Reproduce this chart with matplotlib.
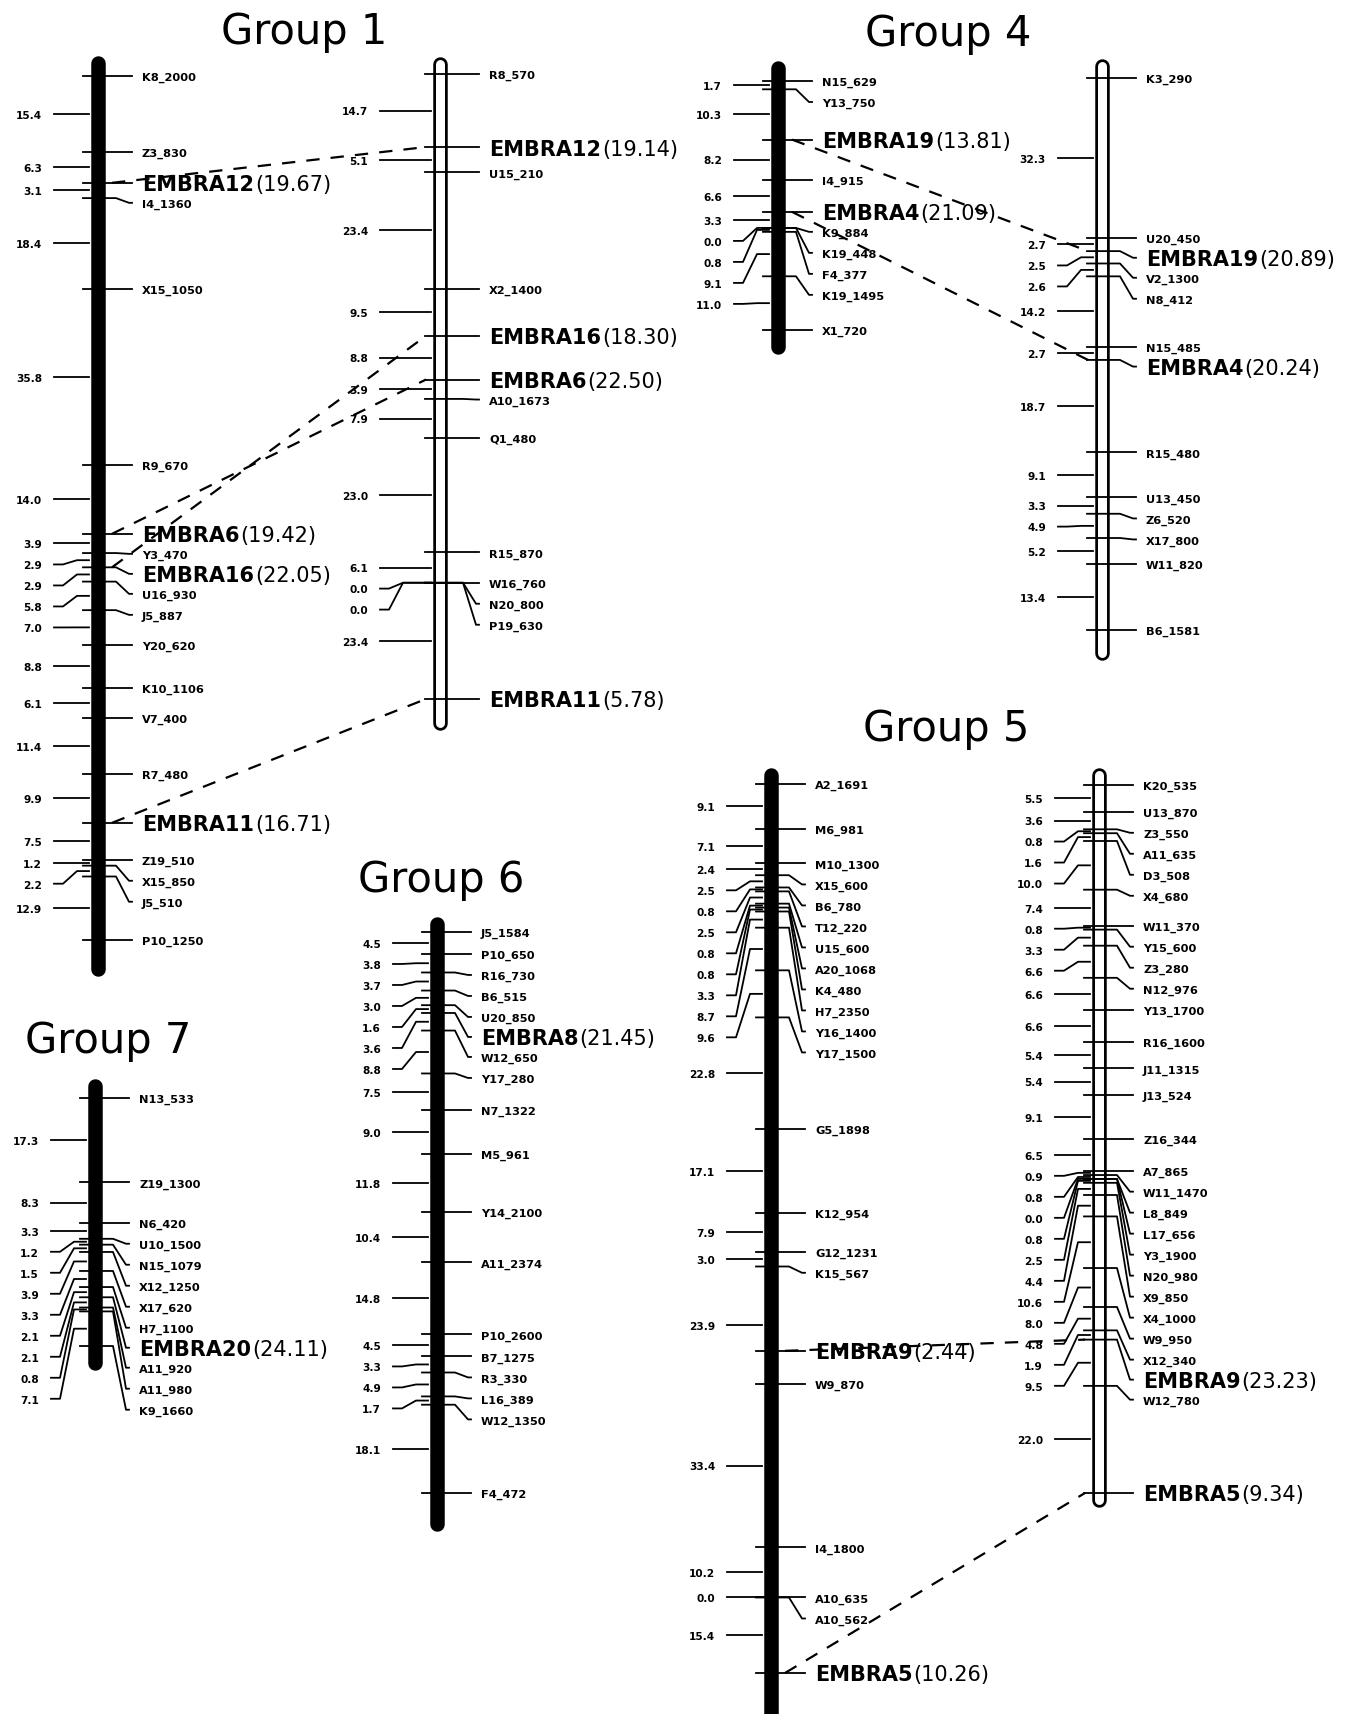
import matplotlib
matplotlib.use("Agg")
import matplotlib.pyplot as plt
import numpy as np

# ---------------------------------------------------------------------------
# Linkage groups: marker names top to bottom, interval distances (cM),
# EMBRA microsatellite scores shown in parentheses.
# ---------------------------------------------------------------------------
g1a_markers = ["K8_2000", "Z3_830", "EMBRA12", "I4_1360", "X15_1050", "R9_670",
               "EMBRA6", "Y3_470", "EMBRA16", "U16_930", "J5_887", "Y20_620",
               "K10_1106", "V7_400", "R7_480", "EMBRA11", "Z19_510", "X15_850",
               "J5_510", "P10_1250"]
g1a_dist = [15.4, 6.3, 3.1, 18.4, 35.8, 14.0, 3.9, 2.9, 2.9, 5.8, 7.0, 8.8,
            6.1, 11.4, 9.9, 7.5, 1.2, 2.2, 12.9]
g1a_embra = {"EMBRA12": 19.67, "EMBRA6": 19.42, "EMBRA16": 22.05, "EMBRA11": 16.71}

g1b_markers = ["R8_570", "EMBRA12", "U15_210", "X2_1400", "EMBRA16", "EMBRA6",
               "A10_1673", "Q1_480", "R15_870", "W16_760", "N20_800", "P19_630",
               "EMBRA11"]
g1b_dist = [14.7, 5.1, 23.4, 9.5, 8.8, 3.9, 7.9, 23.0, 6.1, 0.0, 0.0, 23.4]
g1b_embra = {"EMBRA12": 19.14, "EMBRA16": 18.30, "EMBRA6": 22.50, "EMBRA11": 5.78}

g4a_markers = ["N15_629", "Y13_750", "EMBRA19", "I4_915", "EMBRA4", "K9_884",
               "K19_448", "F4_377", "K19_1495", "X1_720"]
g4a_dist = [1.7, 10.3, 8.2, 6.6, 3.3, 0.0, 0.8, 9.1, 11.0]
g4a_embra = {"EMBRA19": 13.81, "EMBRA4": 21.09}

g4b_markers = ["K3_290", "U20_450", "EMBRA19", "V2_1300", "N8_412", "N15_485",
               "EMBRA4", "R15_480", "U13_450", "Z6_520", "X17_800", "W11_820",
               "B6_1581"]
g4b_dist = [32.3, 2.7, 2.5, 2.6, 14.2, 2.7, 18.7, 9.1, 3.3, 4.9, 5.2, 13.4]
g4b_embra = {"EMBRA19": 20.89, "EMBRA4": 20.24}

g7_markers = ["N13_533", "Z19_1300", "N6_420", "U10_1500", "N15_1079", "X12_1250",
              "X17_620", "H7_1100", "EMBRA20", "A11_920", "A11_980", "K9_1660"]
g7_dist = [17.3, 8.3, 3.3, 1.2, 1.5, 3.9, 3.3, 2.1, 2.1, 0.8, 7.1]
g7_embra = {"EMBRA20": 24.11}

g6_markers = ["J5_1584", "P10_650", "R16_730", "B6_515", "U20_850", "EMBRA8",
              "W12_650", "Y17_280", "N7_1322", "M5_961", "Y14_2100", "A11_2374",
              "P10_2600", "B7_1275", "R3_330", "L16_389", "W12_1350", "F4_472"]
g6_dist = [4.5, 3.8, 3.7, 3.0, 1.6, 3.6, 8.8, 7.5, 9.0, 11.8, 10.4, 14.8,
           4.5, 3.3, 4.9, 1.7, 18.1]
g6_embra = {"EMBRA8": 21.45}

g5a_markers = ["A2_1691", "M6_981", "M10_1300", "X15_600", "B6_780", "T12_220",
               "U15_600", "A20_1068", "K4_480", "H7_2350", "Y16_1400", "Y17_1500",
               "G5_1898", "K12_954", "G12_1231", "K15_567", "W9_870", "I4_1800",
               "A10_635", "A10_562", "EMBRA5"]
g5a_dist = [9.1, 7.1, 2.4, 2.5, 0.8, 2.5, 0.8, 0.8, 3.3, 8.7, 9.6, 22.8, 17.1,
            7.9, 3.0, 23.9, 33.4, 10.2, 0.0, 15.4]
g5a_embra = {"EMBRA9": 2.44, "EMBRA5": 10.26}
# EMBRA9 sits inside the K15_567 - W9_870 interval (cM below K15_567)
g5a_inserted = [("EMBRA9", "K15_567", 17.2)]

g5b_markers = ["K20_535", "U13_870", "Z3_550", "A11_635", "D3_508", "X4_680",
               "W11_370", "Y15_600", "Z3_280", "N12_976", "Y13_1700", "R16_1600",
               "J11_1315", "J13_524", "Z16_344", "A7_865", "W11_1470", "L8_849",
               "L17_656", "Y3_1900", "N20_980", "X9_850", "X4_1000", "W9_950",
               "X12_340", "EMBRA9", "W12_780", "EMBRA5"]
g5b_dist = [5.5, 3.6, 0.8, 1.6, 10.0, 7.4, 0.8, 3.3, 6.6, 6.6, 6.6, 5.4, 5.4,
            9.1, 6.5, 0.9, 0.8, 0.0, 0.8, 2.5, 4.4, 10.6, 8.0, 4.8, 1.9, 9.5, 22.0]
g5b_embra = {"EMBRA9": 23.23, "EMBRA5": 9.34}

# shared markers joined by dashed lines between the two maps of a group
links = [("g1a", "g1b", "EMBRA12"), ("g1a", "g1b", "EMBRA6"),
         ("g1a", "g1b", "EMBRA16"), ("g1a", "g1b", "EMBRA11"),
         ("g4a", "g4b", "EMBRA19"), ("g4a", "g4b", "EMBRA4"),
         ("g5a", "g5b", "EMBRA9"), ("g5a", "g5b", "EMBRA5")]

# ---------------------------------------------------------------------------
# layout (pixels, y downwards)
# ---------------------------------------------------------------------------
layout = {
    "g1a": dict(cx=98, y0=77, y1=941, top=57, bottom=977, filled=True),
    "g1b": dict(cx=440, y0=75, y1=700, top=58, bottom=731, filled=False,
                lpad=72, rpad=49),
    "g4a": dict(cx=778, y0=82, y1=331, top=62, bottom=355, filled=True),
    "g4b": dict(cx=1102, y0=79, y1=631, top=60, bottom=661, filled=False),
    "g7": dict(cx=95, y0=1099, y1=1347, top=1080, bottom=1371, filled=True),
    "g6": dict(cx=437, y0=933, y1=1494, top=918, bottom=1532, filled=True),
    "g5a": dict(cx=771, y0=785, y1=1674, top=769, bottom=1760, filled=True),
    "g5b": dict(cx=1099, y0=786, y1=1494, top=769, bottom=1508, filled=False),
}
titles = [("Group 1", 304, 44), ("Group 4", 948, 46), ("Group 5", 946, 741),
          ("Group 6", 441, 892), ("Group 7", 108, 1053)]

PT = 0.72            # points per pixel at 100 dpi
FS_SMALL = 8.2       # marker names
FS_EMBRA = 15.0      # EMBRA names
FS_DIST = 7.6        # interval distances
FS_TITLE = 30

fig = plt.figure(figsize=(13.48, 17.15), dpi=100)
ax = fig.add_axes([0, 0, 1, 1])
ax.set_xlim(0, 1348)
ax.set_ylim(1715, 0)
ax.axis("off")
renderer = fig.canvas.get_renderer()


def spread(ys, big):
    out = []
    for i, y in enumerate(ys):
        if i == 0:
            out.append(y)
            continue
        if big[i] and big[i - 1]:
            gap = 24
        elif big[i] or big[i - 1]:
            gap = 20
        else:
            gap = 21
        out.append(max(y, out[-1] + gap))
    return out


def draw_group(key, markers, dists, embra, inserted=()):
    lay = layout[key]
    cx = lay["cx"]
    lpad = lay.get("lpad", 56)
    rpad = lay.get("rpad", 44)

    cm = np.concatenate([[0.0], np.cumsum(dists)])
    scale = (lay["y1"] - lay["y0"]) / cm[-1]
    pos = {m: lay["y0"] + c * scale for m, c in zip(markers, cm)}
    for name, after, off in inserted:
        pos[name] = pos[after] + off * scale

    # chromosome body
    ys = [lay["top"] + 7, lay["bottom"] - 7]
    ax.plot([cx, cx], ys, color="black", lw=14.5 * PT,
            solid_capstyle="round", zorder=1)
    if not lay["filled"]:
        ax.plot([cx, cx], ys, color="white", lw=9 * PT,
                solid_capstyle="round", zorder=2)

    # marker names on the right
    order = sorted(pos, key=lambda m: pos[m])
    big = [m in embra for m in order]
    label_y = spread([pos[m] for m in order], big)
    for m, my, ly in zip(order, [pos[m] for m in order], label_y):
        ax.plot([cx - 15, cx + rpad - 26, cx + rpad - 13, cx + rpad - 10],
                [my, my, ly, ly], color="black", lw=1.3, zorder=3)
        if m in embra:
            t = ax.text(cx + rpad, ly + 7.5, m, fontsize=FS_EMBRA,
                        fontweight="bold", va="baseline", ha="left")
            bb = t.get_window_extent(renderer)
            x_end = ax.transData.inverted().transform((bb.x1, 0))[0]
            ax.text(x_end + 1, ly + 7.5, f"({embra[m]:.2f})", fontsize=FS_EMBRA,
                    va="baseline", ha="left")
        else:
            ax.text(cx + rpad, ly + 4, m, fontsize=FS_SMALL, fontweight="bold",
                    va="baseline", ha="left")

    # interval distances on the left
    mids = [(pos[a] + pos[b]) / 2 for a, b in zip(markers[:-1], markers[1:])]
    dist_y = spread(mids, [False] * len(mids))
    for d, dy, dl in zip(dists, mids, dist_y):
        ax.plot([cx - 9, cx - lpad + 35, cx - lpad + 21, cx - lpad + 12],
                [dy, dy, dl, dl], color="black", lw=1.3, zorder=3)
        ax.text(cx - lpad, dl + 3.8, f"{d:.1f}", fontsize=FS_DIST,
                fontweight="bold", va="baseline", ha="right")
    return pos


positions = {
    "g1a": draw_group("g1a", g1a_markers, g1a_dist, g1a_embra),
    "g1b": draw_group("g1b", g1b_markers, g1b_dist, g1b_embra),
    "g4a": draw_group("g4a", g4a_markers, g4a_dist, g4a_embra),
    "g4b": draw_group("g4b", g4b_markers, g4b_dist, g4b_embra),
    "g7": draw_group("g7", g7_markers, g7_dist, g7_embra),
    "g6": draw_group("g6", g6_markers, g6_dist, g6_embra),
    "g5a": draw_group("g5a", g5a_markers, g5a_dist, g5a_embra, g5a_inserted),
    "g5b": draw_group("g5b", g5b_markers, g5b_dist, g5b_embra),
}

for a, b, name in links:
    xa = layout[a]["cx"] + 14
    xb = layout[b]["cx"] - 14
    ax.plot([xa, xb], [positions[a][name], positions[b][name]], color="black",
            lw=1.6, linestyle=(0, (6, 5)), zorder=4)

for text, x, y in titles:
    ax.text(x, y, text, fontsize=FS_TITLE, ha="center", va="baseline")

fig.savefig("out.png", dpi=100)
